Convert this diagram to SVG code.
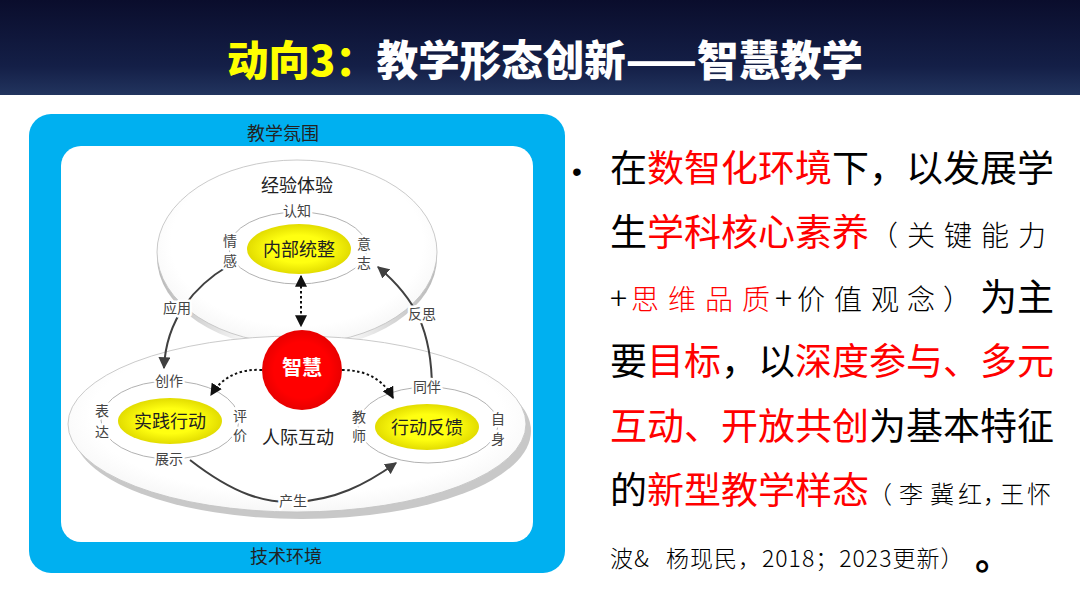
<svg xmlns="http://www.w3.org/2000/svg" width="1080" height="608" viewBox="0 0 1080 608">
<defs>
<linearGradient id="hdr" x1="0" y1="0" x2="0" y2="1">
<stop offset="0" stop-color="#0a0d2c"/>
<stop offset="0.7" stop-color="#141f47"/>
<stop offset="1" stop-color="#22345e"/>
</linearGradient>
<radialGradient id="ell" cx="0.5" cy="0.45" r="0.6">
<stop offset="0.75" stop-color="#ffffff"/>
<stop offset="1" stop-color="#f3f3f3"/>
</radialGradient>
<linearGradient id="sideShadow" x1="0" y1="0" x2="1" y2="0">
<stop offset="0" stop-color="#b8b8b8"/>
<stop offset="0.12" stop-color="#cfcfcf"/>
<stop offset="0.3" stop-color="#f6f6f6"/>
<stop offset="0.7" stop-color="#f6f6f6"/>
<stop offset="0.88" stop-color="#cfcfcf"/>
<stop offset="1" stop-color="#b8b8b8"/>
</linearGradient>
<radialGradient id="yel" cx="0.5" cy="0.5" r="0.5">
<stop offset="0.55" stop-color="#ffff10"/>
<stop offset="1" stop-color="#e2dc00"/>
</radialGradient>
<radialGradient id="red" cx="0.5" cy="0.5" r="0.5">
<stop offset="0.7" stop-color="#ff0000"/>
<stop offset="1" stop-color="#e80000"/>
</radialGradient>
<marker id="ah" viewBox="0 0 10 10" refX="9" refY="5" markerWidth="6" markerHeight="6" orient="auto-start-reverse" markerUnits="strokeWidth">
<path d="M0,0 L10,5 L0,10 z" fill="#404040"/>
</marker>
<marker id="ahd" viewBox="0 0 10 10" refX="9" refY="5" markerWidth="6" markerHeight="6" orient="auto-start-reverse" markerUnits="strokeWidth">
<path d="M0,0 L10,5 L0,10 z" fill="#111"/>
</marker>
</defs>
<style>
.cjk{font-family:"Noto Sans CJK SC","Noto Sans",sans-serif}
.lbl{font-family:"Noto Sans CJK SC",sans-serif;fill:#444;font-size:14px;text-anchor:middle}
.big{font-family:"Noto Sans CJK SC",sans-serif;fill:#222;font-size:18px;text-anchor:middle}
.halo{paint-order:stroke;stroke:#fff;stroke-width:5px;stroke-linejoin:round}
.ring{fill:none;stroke:#a8a8a8;stroke-width:0.9}
.shell{fill:url(#ell);stroke:#c4c4c4;stroke-width:0.9}
.arr{fill:none;stroke:#404040;stroke-width:2;marker-end:url(#ah)}
.dot{fill:none;stroke:#111;stroke-width:2;stroke-dasharray:2.5,2.5}
.r{fill:#ff0000}
.k{fill:#000}
.sm{font-weight:300}
</style>

<rect x="0" y="0" width="1080" height="608" fill="#ffffff"/>
<g id="header">
<rect x="0" y="0" width="1080" height="95" fill="url(#hdr)"/>
<text class="cjk" x="227" y="76" font-size="41.5" font-weight="900" fill="#ffffff"><tspan fill="#ffff00">动向3：</tspan>教学形态创新——智慧教学</text>
</g>

<g id="frame">
<rect x="29" y="114" width="536" height="459" rx="22" fill="#00b0f0"/>
<rect x="61" y="146" width="472" height="396" rx="20" fill="#ffffff"/>
<text class="big" x="283" y="140" font-size="17" fill="#333">教学氛围</text>
<text class="big" x="286" y="563" font-size="17" fill="#333">技术环境</text>
</g>

<g id="upper-shell">
<ellipse cx="297" cy="257" rx="140" ry="92" fill="url(#sideShadow)"/>
<ellipse class="shell" cx="297" cy="252" rx="140" ry="92"/>
<text class="big" x="297" y="192">经验体验</text>
</g>
<g id="lower-shell">
<ellipse cx="302" cy="431" rx="229" ry="88" fill="#c8c8c8"/>
<ellipse class="shell" cx="297" cy="424" rx="229" ry="88"/>
</g>

<g id="ring-inner">
<ellipse class="ring" cx="298" cy="248" rx="69" ry="36"/>
</g>
<g id="ring-practice">
<ellipse class="ring" cx="170" cy="420" rx="69" ry="39"/>
</g>
<g id="ring-feedback">
<ellipse class="ring" cx="428" cy="425" rx="70" ry="38"/>
</g>

<g id="connectors">
<path class="arr" d="M228 266 C196 285 166 318 164 368"/>
<path class="arr" d="M432 390 C432 330 415 298 378 267"/>
<path class="arr" d="M190 460 C235 495 265 503 295 502 C335 500 365 485 396 463"/>
<path class="dot" d="M301 276 L301 326" marker-start="url(#ahd)" marker-end="url(#ahd)"/>
<path class="dot" d="M262 370 Q228 368 211 395" marker-end="url(#ahd)"/>
<path class="dot" d="M342 370 Q378 370 393 398" marker-end="url(#ahd)"/>
</g>

<g id="node-inner">
<ellipse cx="299" cy="249" rx="52" ry="25" fill="url(#yel)"/>
<text class="big" x="299" y="256">内部统整</text>
<text class="lbl halo" x="297" y="216">认知</text>
<text class="lbl halo" x="230" y="246">情</text>
<text class="lbl halo" x="230" y="266">感</text>
<text class="lbl halo" x="364" y="249">意</text>
<text class="lbl halo" x="364" y="268">志</text>
</g>

<g id="node-wisdom">
<circle cx="302" cy="370" r="40" fill="url(#red)"/>
<text class="cjk" x="302" y="375" font-size="20" font-weight="700" fill="#ffffff" text-anchor="middle">智慧</text>
</g>

<g id="node-practice">
<ellipse cx="170" cy="421" rx="52" ry="23" fill="url(#yel)"/>
<text class="big" x="170" y="428">实践行动</text>
<text class="lbl halo" x="169" y="386">创作</text>
<text class="lbl halo" x="102" y="416">表</text>
<text class="lbl halo" x="102" y="437">达</text>
<text class="lbl halo" x="240" y="421">评</text>
<text class="lbl halo" x="240" y="440">价</text>
<text class="lbl halo" x="169" y="464">展示</text>
</g>

<g id="node-feedback">
<ellipse cx="427" cy="427" rx="52" ry="23" fill="url(#yel)"/>
<text class="big" x="427" y="434">行动反馈</text>
<text class="lbl halo" x="427" y="392">同伴</text>
<text class="lbl halo" x="359" y="422">教</text>
<text class="lbl halo" x="359" y="441">师</text>
<text class="lbl halo" x="498" y="424">自</text>
<text class="lbl halo" x="498" y="444">身</text>
</g>

<g id="edge-labels">
<text class="lbl halo" x="177" y="313">应用</text>
<text class="lbl halo" x="422" y="319">反思</text>
<text class="lbl halo" x="293" y="506">产生</text>
<text class="big" x="298" y="444" font-size="17">人际互动</text>
</g>

<g id="bullet-text" class="cjk">
<text x="572" y="181" font-family="Liberation Sans" font-size="28" fill="#000">•</text>
<text x="610" y="182" font-size="37" class="k">在<tspan class="r">数智化环境</tspan>下，以发展学</text>
<text x="610" y="246" font-size="37" class="k">生<tspan class="r">学科核心素养</tspan><tspan x="870" font-size="28" letter-spacing="9" class="sm">（关键能力</tspan></text>
<text y="310" font-size="28" class="k sm"><tspan x="610" font-size="32">+</tspan><tspan class="r" x="631 668 705 742">思维品质</tspan><tspan x="775" font-size="32">+</tspan><tspan x="797 834 871 907 943">价值观念）</tspan></text>
<text y="311" font-size="37" class="k"><tspan x="980">为主</tspan></text>
<text x="610" y="375" font-size="37" class="k">要<tspan class="r">目标</tspan>，以<tspan class="r">深度参与、多元</tspan></text>
<text x="610" y="440" font-size="37" class="k"><tspan class="r">互动、开放共创</tspan>为基本特征</text>
<text x="610" y="504" font-size="37" class="k">的<tspan class="r">新型教学样态</tspan></text>
<text y="503" font-size="24" class="k sm"><tspan x="868 899 930 958 983 1000 1027">（李冀红，王怀</tspan></text>
<text y="567" font-size="23" class="k sm"><tspan x="610">波</tspan><tspan x="634">&amp;</tspan><tspan x="666" letter-spacing="1">杨现民，2018；2023更新）</tspan></text>
<text x="975" y="570" font-size="37" font-weight="700" class="k">。</text>
</g>
</svg>
